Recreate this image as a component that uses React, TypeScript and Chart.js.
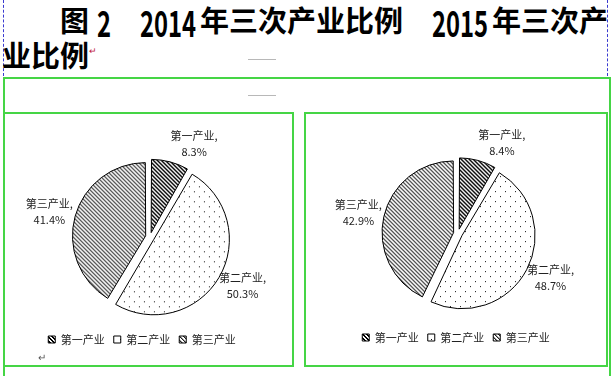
import React, { useEffect, useRef } from "react";
import { Chart, registerables } from "chart.js";

Chart.register(...registerables);

// ---- data ----
const categories = ["第一产业", "第二产业", "第三产业"];
const values2014 = [8.3, 50.3, 41.4];
const values2015 = [8.4, 48.7, 42.9];
const titleYear1 = "2014";
const titleYear2 = "2015";
const titleSuffix = "年三次产业比例";

const CJK = "'Noto Sans CJK SC', 'Noto Sans', sans-serif";

function makePattern(kind: string): CanvasPattern | string {
  const c = document.createElement("canvas");
  const ctx = c.getContext("2d");
  if (!ctx) return "#fff";
  if (kind === "dense") {
    c.width = 4; c.height = 4;
    ctx.fillStyle = "#fff"; ctx.fillRect(0, 0, 4, 4);
    ctx.fillStyle = "#000";
    for (let x = 0; x < 4; x++) for (let y = 0; y < 4; y++) {
      if ((((x - y) % 4) + 4) % 4 < 2) ctx.fillRect(x, y, 1, 1);
    }
  } else if (kind === "light") {
    c.width = 4; c.height = 4;
    ctx.fillStyle = "#fff"; ctx.fillRect(0, 0, 4, 4);
    ctx.fillStyle = "#222";
    for (let x = 0; x < 4; x++) for (let y = 0; y < 4; y++) {
      if ((((x - y) % 4) + 4) % 4 === 0) ctx.fillRect(x, y, 1, 1);
    }
    ctx.fillStyle = "#999";
    for (let x = 0; x < 4; x++) for (let y = 0; y < 4; y++) {
      if ((((x - y) % 4) + 4) % 4 === 1) ctx.fillRect(x, y, 1, 1);
    }
  } else {
    c.width = 10; c.height = 10;
    ctx.fillStyle = "#fff"; ctx.fillRect(0, 0, 10, 10);
    ctx.fillStyle = "#111";
    ctx.fillRect(0, 0, 1, 1);
    ctx.fillRect(5, 5, 1, 1);
  }
  const p = ctx.createPattern(c, "repeat");
  return p || "#fff";
}

const sliceLabels = {
  id: "sliceLabels",
  afterDatasetsDraw(chart: any) {
    const ctx = chart.ctx;
    const meta = chart.getDatasetMeta(0);
    const ds = chart.data.datasets[0];
    ctx.save();
    ctx.font = `11px ${CJK}`;
    ctx.fillStyle = "#222";
    ctx.textBaseline = "middle";
    ctx.textAlign = "center";
    meta.data.forEach((arc: any, i: number) => {
      const { x, y, startAngle, endAngle, outerRadius } = arc.getProps(
        ["x", "y", "startAngle", "endAngle", "outerRadius"], true);
      const mid = (startAngle + endAngle) / 2;
      const R = outerRadius + 9;
      const ax = x + Math.cos(mid) * R;
      const ay = y + Math.sin(mid) * R;
      const lines = [chart.data.labels[i] + ",", ds.data[i].toFixed(1) + "%"];
      const lh = 16;
      const h = lh * lines.length;
      const cy = ay + Math.sin(mid) * h / 2;
      const w = Math.max(...lines.map((l: string) => ctx.measureText(l).width));
      const left = Math.cos(mid) >= 0 ? ax : ax - w;
      lines.forEach((l: string, k: number) => {
        ctx.fillText(l, left + w / 2, cy - h / 2 + lh / 2 + k * lh);
      });
    });
    ctx.restore();
  },
};

const legendShift = {
  id: "legendShift",
  beforeDraw(chart: any, _args: any, opts: any) {
    const l = chart.legend;
    if (l && opts && opts.dx && !l.__shifted) {
      l.left += opts.dx;
      l.right += opts.dx;
      l.__shifted = true;
    }
  },
};

function PieChart(props: { values: number[]; width: number; height: number; radius: number; padding: any; legendDx: number }) {
  const ref = useRef<HTMLCanvasElement | null>(null);
  useEffect(() => {
    if (!ref.current) return;
    const patterns = [makePattern("dense"), makePattern("dots"), makePattern("light")];
    const chart = new Chart(ref.current, {
      type: "pie",
      data: {
        labels: categories,
        datasets: [{
          data: props.values,
          backgroundColor: patterns as any,
          borderColor: "#000",
          borderWidth: 1,
          offset: 18,
          radius: props.radius,
        } as any],
      },
      options: {
        animation: false,
        responsive: false,
        layout: { padding: props.padding },
        plugins: {
          legend: {
            position: "bottom",
            labels: {
              boxWidth: 7,
              boxHeight: 7,
              padding: 9,
              color: "#222",
              font: { size: 11, family: CJK },
            },
          },
          tooltip: { enabled: false },
          legendShift: { dx: props.legendDx },
        },
      } as any,
      plugins: [sliceLabels, legendShift],
    });
    return () => chart.destroy();
  }, []);
  return <canvas ref={ref} width={props.width} height={props.height} style={{ width: props.width, height: props.height, display: "block" }} />;
}

const green = "#45d545";

export default function App() {
  const titleStyle: React.CSSProperties = {
    position: "absolute", fontFamily: CJK, fontWeight: 700, fontSize: 29, lineHeight: "29px", color: "#000", whiteSpace: "nowrap",
  };
  const digitStyle: React.CSSProperties = {
    position: "absolute", fontFamily: CJK, fontWeight: 700, fontSize: 36, lineHeight: "36px", color: "#000",
    transform: "scaleX(0.66)", transformOrigin: "left top", whiteSpace: "nowrap",
  };
  return (
    <div style={{ position: "absolute", left: 0, top: 0, width: 613, height: 376, overflow: "hidden", background: "#fff" }}>
      {/* dashed margin guides */}
      <div style={{ position: "absolute", left: 3, top: 0, height: 76, borderLeft: "1px dashed #3a3ad0" }} />
      <div style={{ position: "absolute", left: 607, top: 0, height: 76, borderLeft: "1px dashed #3a3ad0" }} />
      {/* title */}
      <div style={{ ...titleStyle, left: 60, top: 5 }}>图</div>
      <div style={{ ...digitStyle, left: 97, top: 3 }}>2</div>
      <div style={{ ...digitStyle, left: 140, top: 3 }}>{titleYear1}</div>
      <div style={{ ...titleStyle, left: 200, top: 5 }}>{titleSuffix}</div>
      <div style={{ ...digitStyle, left: 432, top: 3 }}>{titleYear2}</div>
      <div style={{ ...titleStyle, left: 492, top: 5 }}>{titleSuffix.slice(0, 4)}</div>
      <div style={{ ...titleStyle, left: 2, top: 40 }}>{titleSuffix.slice(4)}</div>
      <div style={{ position: "absolute", left: 89, top: 44, fontSize: 9, color: "#c02040", fontFamily: CJK }}>↵</div>
      {/* small grey marks */}
      <div style={{ position: "absolute", left: 248, top: 59, width: 28, borderTop: "1px solid #b8b8b8" }} />
      <div style={{ position: "absolute", left: 248, top: 95, width: 28, borderTop: "1px solid #b8b8b8" }} />
      {/* green frames */}
      <div style={{ position: "absolute", left: 3, top: 77, width: 604, height: 400, border: `2px solid ${green}` }} />
      <div style={{ position: "absolute", left: 3, top: 112, width: 287, height: 251, border: `2px solid ${green}` }} />
      <div style={{ position: "absolute", left: 304, top: 112, width: 300, height: 251, border: `2px solid ${green}` }} />
      {/* charts */}
      <div style={{ position: "absolute", left: 5, top: 114 }}>
        <PieChart values={values2014} width={286} height={250} radius={71} legendDx={-8}
          padding={{ top: 35, left: 4, right: 0, bottom: 9 }} />
      </div>
      <div style={{ position: "absolute", left: 306, top: 114 }}>
        <PieChart values={values2015} width={299} height={250} radius={69} legendDx={-2}
          padding={{ top: 30, left: 5, right: 0, bottom: 11 }} />
      </div>
      <div style={{ position: "absolute", left: 38, top: 349, fontSize: 10, color: "#555", fontFamily: CJK }}>↵</div>
    </div>
  );
}
